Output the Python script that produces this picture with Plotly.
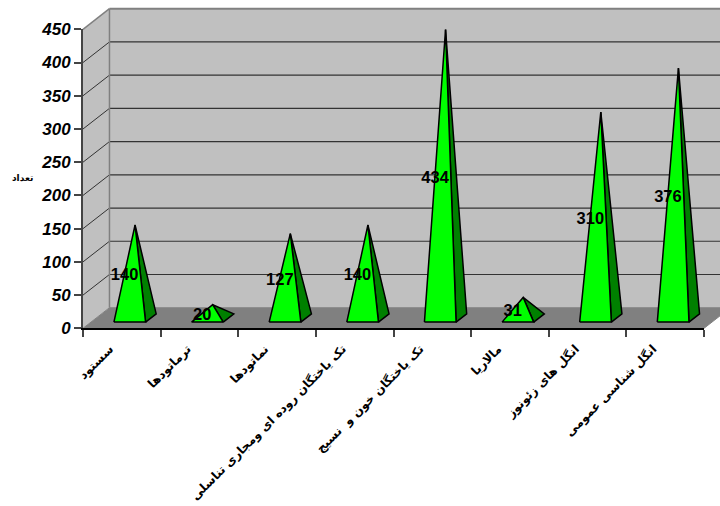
import plotly.graph_objects as go

categories = ["سستود", "ترماتودها", "نماتودها", "تک یاختگان روده ای ومجاری تناسلی",
              "تک یاختگان خون و  نسیج", "مالاریا", "انگل های زئونوز", "انگل شناسی عمومی"]
values = [140, 20, 127, 140, 434, 31, 310, 376]
y_ticks = [0, 50, 100, 150, 200, 250, 300, 350, 400, 450]
y_title = "تعداد"

W, H = 720, 506
X0, X1 = 83.0, 704.0          # front plot box, pixels
Y0, Y450 = 328.3, 29.3
DEPTH_X, DEPTH_Y = 0.341, 31.0  # 3D depth vector in axis units
HALF = 0.204
D_FRONT, D_BACK = 0.3, 0.7
N = len(categories)
px_x = (X1 - X0) / N
px_y = (Y0 - Y450) / 450


def P(c, v, d=0.0):
    return c + d * DEPTH_X, v + d * DEPTH_Y


def poly(points, fill, line="rgba(0,0,0,0)", width=0):
    pts = list(points) + [points[0]]
    return go.Scatter(x=[p[0] for p in pts], y=[p[1] for p in pts], mode="lines",
                      fill="toself", fillcolor=fill, line=dict(color=line, width=width),
                      hoverinfo="skip", showlegend=False)


def seg(a, b, color, width):
    return go.Scatter(x=[a[0], b[0]], y=[a[1], b[1]], mode="lines",
                      line=dict(color=color, width=width),
                      hoverinfo="skip", showlegend=False)


fig = go.Figure()
top = y_ticks[-1]
GRAY = "#808080"
# floor, side wall, back wall
fig.add_trace(poly([P(0, 0), P(N, 0), P(N, 0, 1), P(0, 0, 1)], GRAY))
fig.add_trace(poly([P(0, 0), P(0, top), P(0, top, 1), P(0, 0, 1)], "#C0C0C0"))
fig.add_trace(poly([P(0, 0, 1), P(0, top, 1), P(N, top, 1), P(N, 0, 1)], "#C0C0C0"))
# grid
for t in y_ticks[1:-1]:
    fig.add_trace(seg(P(0, t), P(0, t, 1), "#333333", 1))
    fig.add_trace(seg(P(0, t, 1), P(N, t, 1), "#333333", 1.2))
# wall edges
fig.add_trace(seg(P(0, top), P(0, top, 1), GRAY, 1.5))
fig.add_trace(seg(P(0, top, 1), P(N, top, 1), GRAY, 2))
fig.add_trace(seg(P(0, 0, 1), P(0, top, 1), GRAY, 1.5))
fig.add_trace(seg(P(0, 0), P(0, 0, 1), GRAY, 1))
fig.add_trace(seg(P(N, 0), P(N, 0, 1), GRAY, 1))
fig.add_trace(seg(P(0, 0, 1), P(N, 0, 1), GRAY, 1))

# pyramids
lx, ly, lt = [], [], []
for i, v in enumerate(values):
    c = i + 0.5
    fl = P(c - HALF, 0, D_FRONT)
    fr = P(c + HALF, 0, D_FRONT)
    br = P(c + HALF, 0, D_BACK)
    apex = P(c, v, 0.5)
    fig.add_trace(poly([fr, br, apex], "#008000", "#000000", 1.5))
    fig.add_trace(poly([fl, fr, apex], "#00FF00", "#000000", 1.5))
    lx.append(apex[0] - 0.135)
    ly.append(v / 2 + DEPTH_Y * 0.5 - 7)
    lt.append(str(v))

fig.add_trace(go.Scatter(x=lx, y=ly, text=lt, mode="text", textposition="middle center",
                         textfont=dict(family="Liberation Sans", size=16.5, color="#000000", weight="bold"),
                         hoverinfo="skip", showlegend=False))

# invisible trace that carries the real category / value axes
fig.add_trace(go.Scatter(x=categories, y=values, xaxis="x2", yaxis="y2", mode="markers",
                         marker=dict(opacity=0), hoverinfo="skip", showlegend=False))

fig.update_layout(
    width=W, height=H, margin=dict(l=0, r=0, t=0, b=0, autoexpand=False),
    paper_bgcolor="#FFFFFF", plot_bgcolor="rgba(0,0,0,0)", showlegend=False,
    xaxis=dict(domain=[0, 1], range=[(0 - X0) / px_x, (W - X0) / px_x], visible=False, fixedrange=True, automargin=False),
    yaxis=dict(domain=[0, 1], range=[(Y0 - H) / px_y, Y0 / px_y], visible=False, fixedrange=True, automargin=False),
    xaxis2=dict(domain=[X0 / W, X1 / W], anchor="y2", type="category", categoryorder="array",
                categoryarray=categories, range=[-0.5, N - 0.5], tickson="boundaries",
                ticks="outside", ticklen=7, tickwidth=1.5, tickcolor="#444444", automargin=False,
                showline=True, linecolor="#000000", linewidth=2, showgrid=False, zeroline=False,
                tickangle=-45, dtick=1, ticklabelshift=-12, ticklabelstandoff=7,
                tickfont=dict(family="DejaVu Sans", size=12, color="#000000", weight="bold")),
    yaxis2=dict(domain=[(H - Y0) / H, (H - Y450) / H], anchor="x2", range=[0, top], automargin=False,
                tickvals=y_ticks, ticks="outside", ticklen=7, tickwidth=1.5, tickcolor="#444444",
                showline=True, linecolor="#444444", linewidth=2, showgrid=False, zeroline=False,
                tickfont=dict(family="Liberation Sans", size=17, color="#000000", weight="bold", style="italic")),
    annotations=[dict(text=y_title, xref="paper", yref="paper", x=22 / W, y=1 - 178 / H,
                      showarrow=False, xanchor="center", yanchor="middle",
                      font=dict(family="DejaVu Sans", size=9, color="#000000", weight="bold"))],
)

fig.write_html("out.html", config={"displayModeBar": False},
               post_script="document.body.style.margin='0';")
